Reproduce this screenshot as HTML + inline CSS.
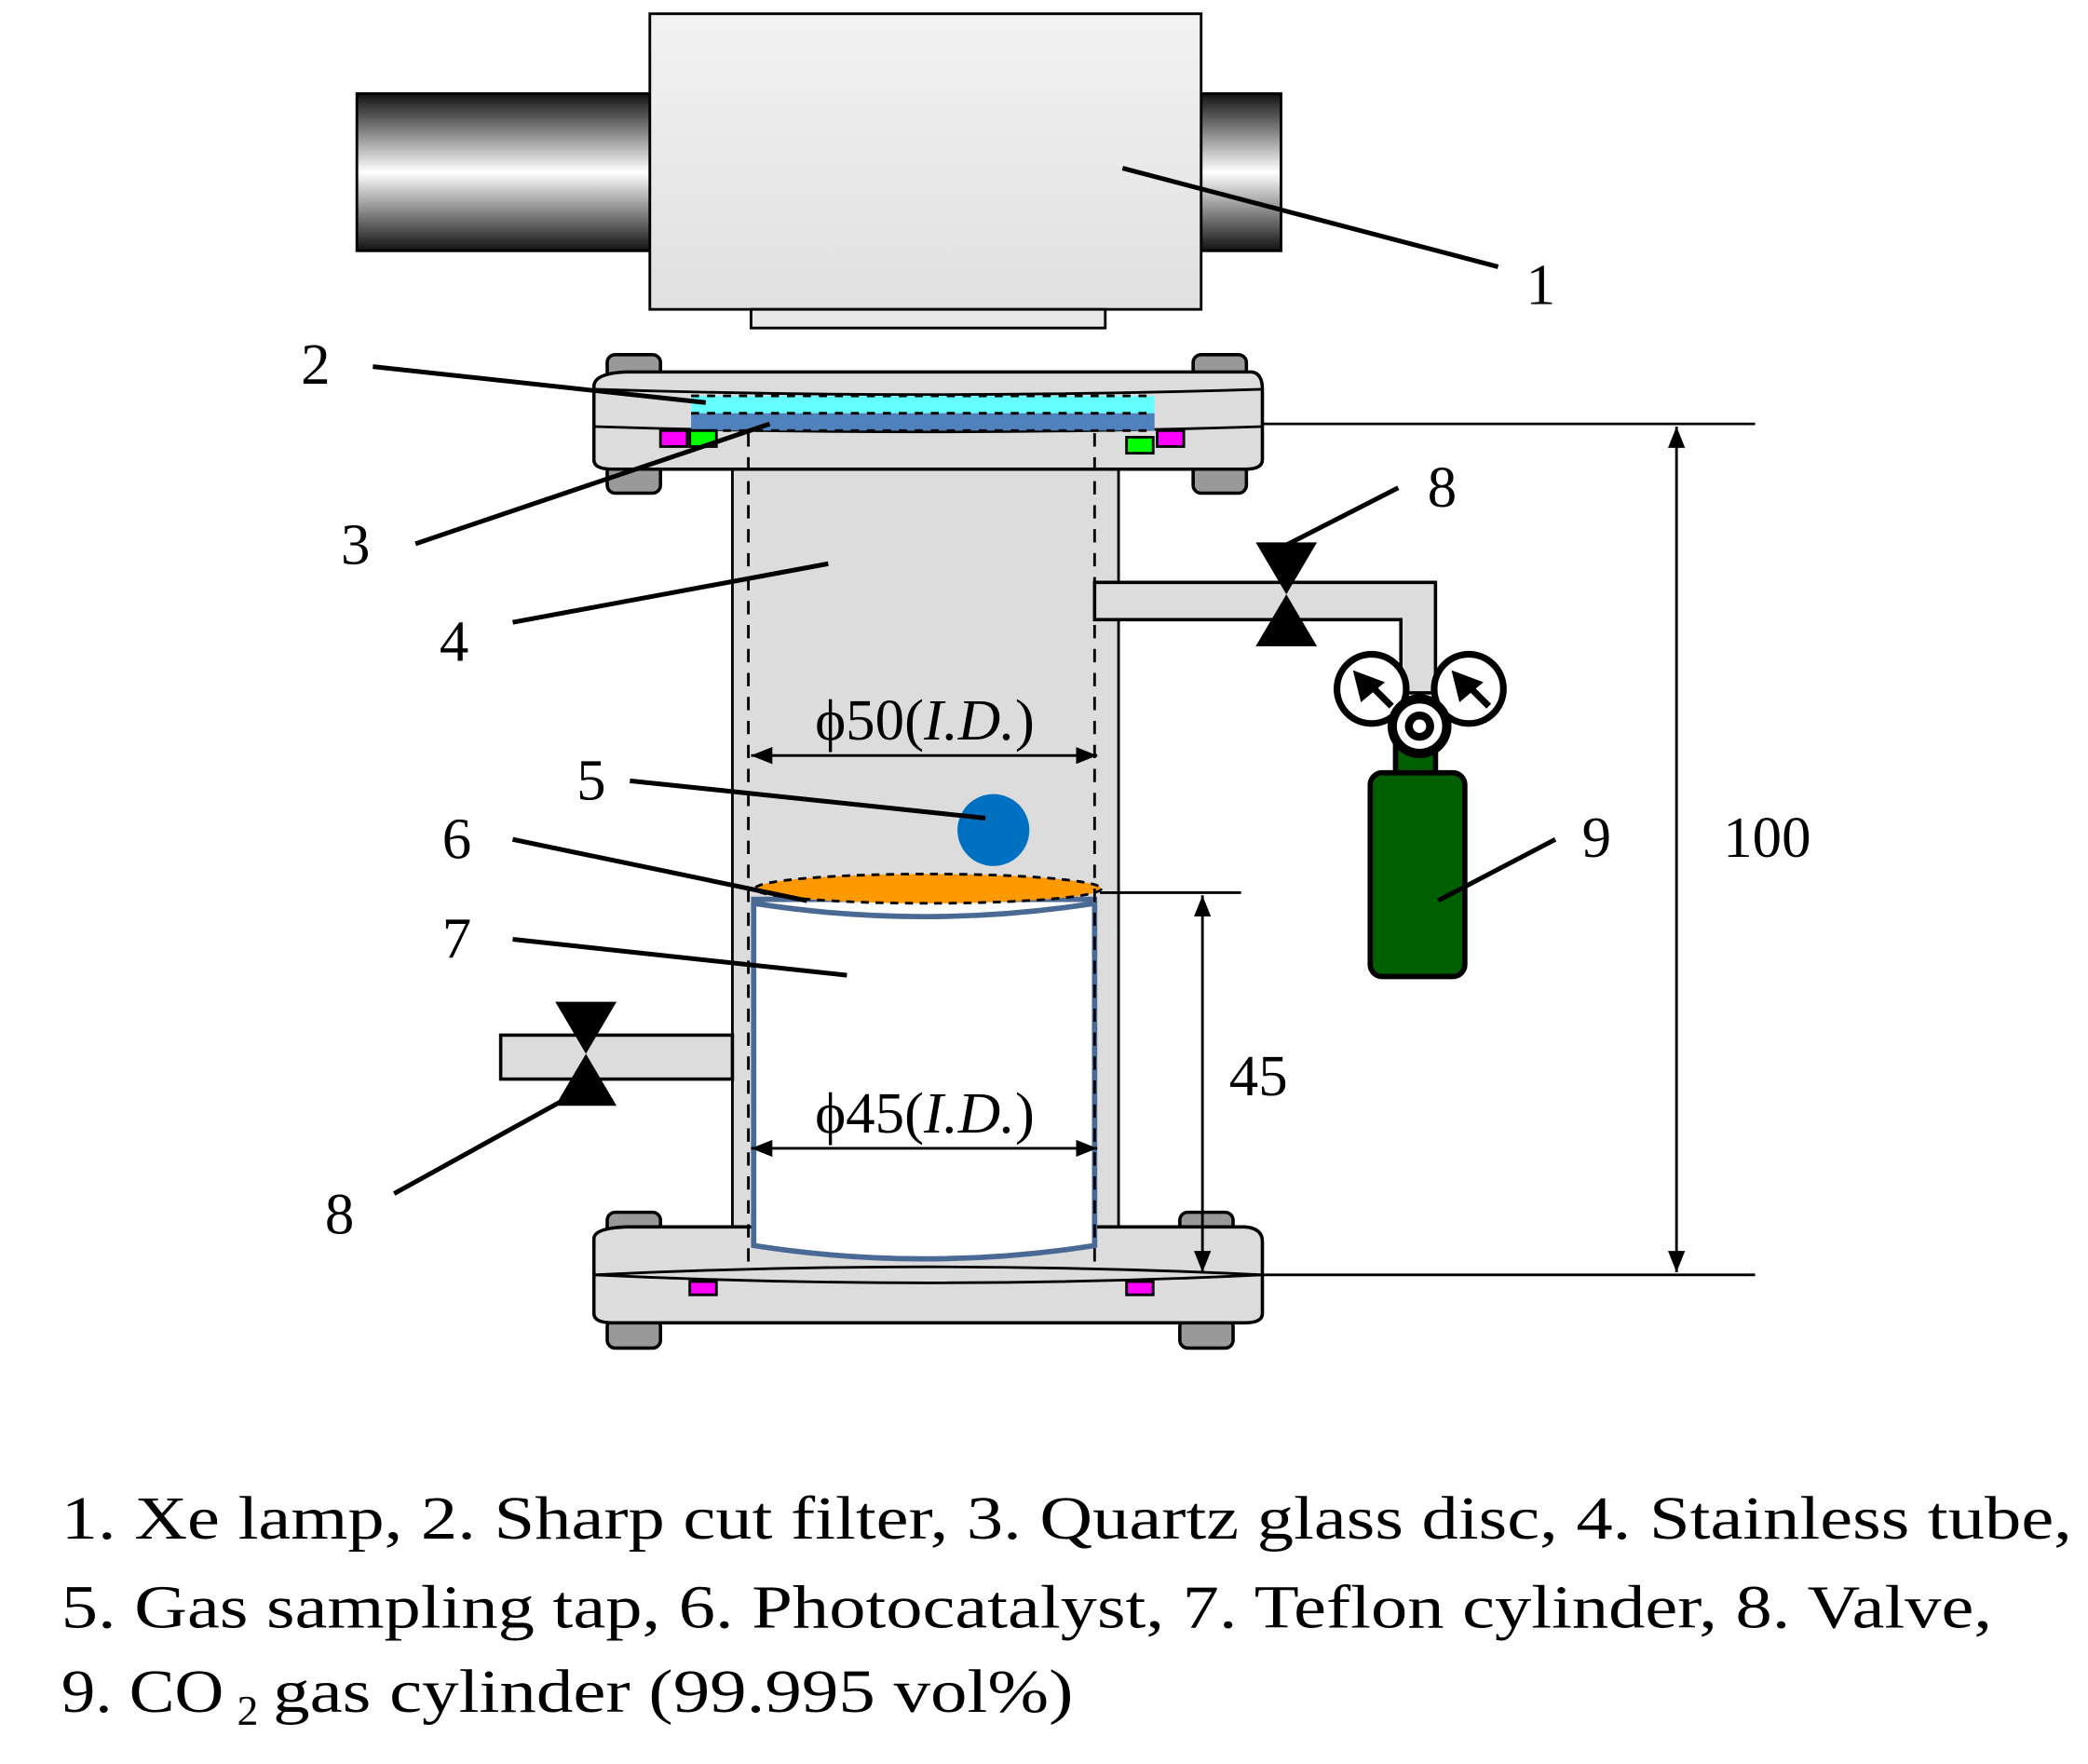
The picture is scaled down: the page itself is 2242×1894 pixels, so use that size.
<!DOCTYPE html>
<html><head><meta charset="utf-8"><style>
html,body{margin:0;padding:0;background:#fff}
svg{display:block}
text{font-family:"Liberation Serif",serif;fill:#000}
</style></head><body>
<svg width="2242" height="1894" viewBox="0 0 1568 1324" xmlns="http://www.w3.org/2000/svg">
<defs>
<linearGradient id="cyl" x1="0" y1="0" x2="0" y2="1">
<stop offset="0" stop-color="#111"/><stop offset="0.5" stop-color="#fff"/><stop offset="1" stop-color="#111"/>
</linearGradient>
<linearGradient id="box" x1="0" y1="0" x2="0" y2="1">
<stop offset="0" stop-color="#f2f2f2"/><stop offset="1" stop-color="#e0e0e0"/>
</linearGradient>
<marker id="ar" viewBox="0 0 10 10" refX="10" refY="5" markerWidth="8" markerHeight="8" orient="auto-start-reverse"><path d="M0,1 L10,5 L0,9 z" fill="#000"/></marker>
</defs>

<rect x="268" y="70" width="694" height="118" fill="url(#cyl)" stroke="#000" stroke-width="2"/>
<rect x="488" y="10" width="414" height="222" fill="url(#box)" stroke="#000" stroke-width="2"/>
<rect x="564" y="232" width="266" height="14" fill="#e8e8e8" stroke="#000" stroke-width="2"/>

<rect x="550" y="345" width="290" height="585" fill="#dcdcdc" stroke="#000" stroke-width="2"/>

<g stroke="#000" stroke-width="2.5">
<rect x="456" y="266" width="40" height="24" rx="6" fill="#999"/>
<rect x="896" y="266" width="40" height="24" rx="6" fill="#999"/>
<rect x="456" y="346" width="40" height="24" rx="6" fill="#999"/>
<rect x="896" y="346" width="40" height="24" rx="6" fill="#999"/>
<path d="M446,290 Q446,280 470,279 L940,279 Q948,280 948,292 L948,345 Q948,352 935,352 L460,352 Q446,352 446,345 Z" fill="#dcdcdc"/>
<path d="M446,292 Q697,300 948,292" fill="none" stroke-width="2"/>
<path d="M446,320 Q697,328 948,320" fill="none" stroke-width="2"/>
</g>
<rect x="519" y="297" width="348" height="13" fill="#66ffff"/>
<rect x="519" y="310" width="348" height="13" fill="#4f81bd"/>
<g fill="none" stroke="#000" stroke-width="2" stroke-dasharray="6,6">
<line x1="519" y1="297" x2="867" y2="297"/><line x1="519" y1="310" x2="867" y2="310"/><line x1="519" y1="323" x2="867" y2="323"/>
</g>
<g stroke="#000" stroke-width="2">
<rect x="496" y="323" width="20" height="12" fill="#ff00ff"/>
<rect x="518" y="323" width="20" height="12" fill="#00ff00"/>
<rect x="846" y="328" width="20" height="12" fill="#00ff00"/>
<rect x="869" y="323" width="20" height="12" fill="#ff00ff"/>
</g>

<g stroke="#000" stroke-width="2.5">
<rect x="456" y="910" width="40" height="22" rx="6" fill="#999"/>
<rect x="886" y="910" width="40" height="22" rx="6" fill="#999"/>
<rect x="456" y="990" width="40" height="22" rx="6" fill="#999"/>
<rect x="886" y="990" width="40" height="22" rx="6" fill="#999"/>
<path d="M446,930 Q446,922 470,921 L935,921 Q948,922 948,932 L948,986 Q948,993 935,993 L460,993 Q446,993 446,986 Z" fill="#dcdcdc"/>
<path d="M446,957 Q697,945 948,957 Q697,969 446,957" fill="none" stroke-width="2"/>
</g>
<rect x="518" y="962" width="20" height="10" fill="#ff00ff" stroke="#000" stroke-width="2"/>
<rect x="846" y="962" width="20" height="10" fill="#ff00ff" stroke="#000" stroke-width="2"/>

<path d="M566,675 L566,935 Q694,955 822,935 L822,675 Z" fill="#fff" stroke="#4a6a95" stroke-width="4"/>
<path d="M566,678 Q694,698 822,678" fill="none" stroke="#4a6a95" stroke-width="4"/>
<ellipse cx="697" cy="667" rx="130" ry="11" fill="#ff9900" stroke="#000" stroke-width="2" stroke-dasharray="6,5"/>

<g stroke="#000" stroke-width="2" stroke-dasharray="10,8">
<line x1="562" y1="325" x2="562" y2="950"/><line x1="822" y1="325" x2="822" y2="950"/>
</g>

<circle cx="746" cy="623" r="27" fill="#0070c0"/>

<path d="M822,437 L1078,437 L1078,520 L1052,520 L1052,465 L822,465 Z" fill="#dcdcdc" stroke="#000" stroke-width="2.5"/>
<path d="M943,407 L989,407 L966,446 Z M943,485 L989,485 L966,446 Z" fill="#000"/>

<g stroke="#000" stroke-width="5" fill="#fff">
<circle cx="1030" cy="517" r="26"/><circle cx="1103" cy="517" r="26"/>
</g>
<rect x="1048" y="560" width="30" height="25" fill="#006000" stroke="#000" stroke-width="4"/>
<rect x="1029" y="580" width="71" height="153" rx="9" fill="#006000" stroke="#000" stroke-width="4"/>
<circle cx="1066" cy="545" r="24" fill="#000"/>
<circle cx="1066" cy="545" r="17" fill="#fff"/>
<circle cx="1066" cy="545" r="11" fill="#000"/>
<circle cx="1066" cy="545" r="5" fill="#fff"/>
<g stroke="#000" stroke-width="5"><line x1="1045" y1="530" x2="1027" y2="512"/><line x1="1118" y1="530" x2="1100" y2="512"/></g>
<path d="M1016,503 L1040,512 L1022,527 Z M1090,503 L1114,512 L1096,527 Z" fill="#000"/>

<rect x="376" y="777" width="174" height="33" fill="#dcdcdc" stroke="#000" stroke-width="2.5"/>
<path d="M417,752 L463,752 L440,791 Z M417,830 L463,830 L440,791 Z" fill="#000"/>

<g stroke="#000" stroke-width="2" fill="none">
<line x1="948" y1="318" x2="1318" y2="318"/>
<line x1="948" y1="957" x2="1318" y2="957"/>
<line x1="1259" y1="320" x2="1259" y2="955" marker-start="url(#ar)" marker-end="url(#ar)"/>
<line x1="826" y1="670" x2="932" y2="670"/>
<line x1="903" y1="672" x2="903" y2="955" marker-start="url(#ar)" marker-end="url(#ar)"/>
<line x1="564" y1="567" x2="824" y2="567" marker-start="url(#ar)" marker-end="url(#ar)"/>
<line x1="564" y1="862" x2="824" y2="862" marker-start="url(#ar)" marker-end="url(#ar)"/>
</g>

<g stroke="#000" stroke-width="3.5">
<line x1="843" y1="126" x2="1125" y2="200"/>
<line x1="280" y1="275" x2="530" y2="302"/>
<line x1="312" y1="408" x2="578" y2="318"/>
<line x1="385" y1="467" x2="622" y2="423"/>
<line x1="473" y1="586" x2="740" y2="614"/>
<line x1="385" y1="630" x2="606" y2="676"/>
<line x1="385" y1="705" x2="636" y2="732"/>
<line x1="1050" y1="366" x2="960" y2="412"/>
<line x1="296" y1="896" x2="430" y2="822"/>
<line x1="1168" y1="630" x2="1080" y2="676"/>
</g>

<g font-size="44">
<text x="1146" y="228">1</text>
<text x="226" y="288">2</text>
<text x="256" y="423">3</text>
<text x="330" y="496">4</text>
<text x="433" y="600">5</text>
<text x="332" y="644">6</text>
<text x="332" y="719">7</text>
<text x="1072" y="380">8</text>
<text x="244" y="926">8</text>
<text x="1188" y="643">9</text>
<text x="1294" y="643">100</text>
<text x="923" y="822">45</text>
<text x="612" y="555">ϕ50(<tspan font-style="italic">I.D.</tspan>)</text>
<text x="612" y="850">ϕ45(<tspan font-style="italic">I.D.</tspan>)</text>
</g>
<g font-size="46">
<text x="46" y="1155" textLength="1510" lengthAdjust="spacingAndGlyphs">1. Xe lamp, 2. Sharp cut filter, 3. Quartz glass disc, 4. Stainless tube,</text>
<text x="46" y="1222" textLength="1450" lengthAdjust="spacingAndGlyphs">5. Gas sampling tap, 6. Photocatalyst, 7. Teflon cylinder, 8. Valve,</text>
<text x="46" y="1285" textLength="122" lengthAdjust="spacingAndGlyphs">9. CO</text>
<text x="178" y="1295" font-size="32">2</text>
<text x="205" y="1285" textLength="601" lengthAdjust="spacingAndGlyphs">gas cylinder (99.995 vol%)</text>
</g>
</svg>
</body></html>
